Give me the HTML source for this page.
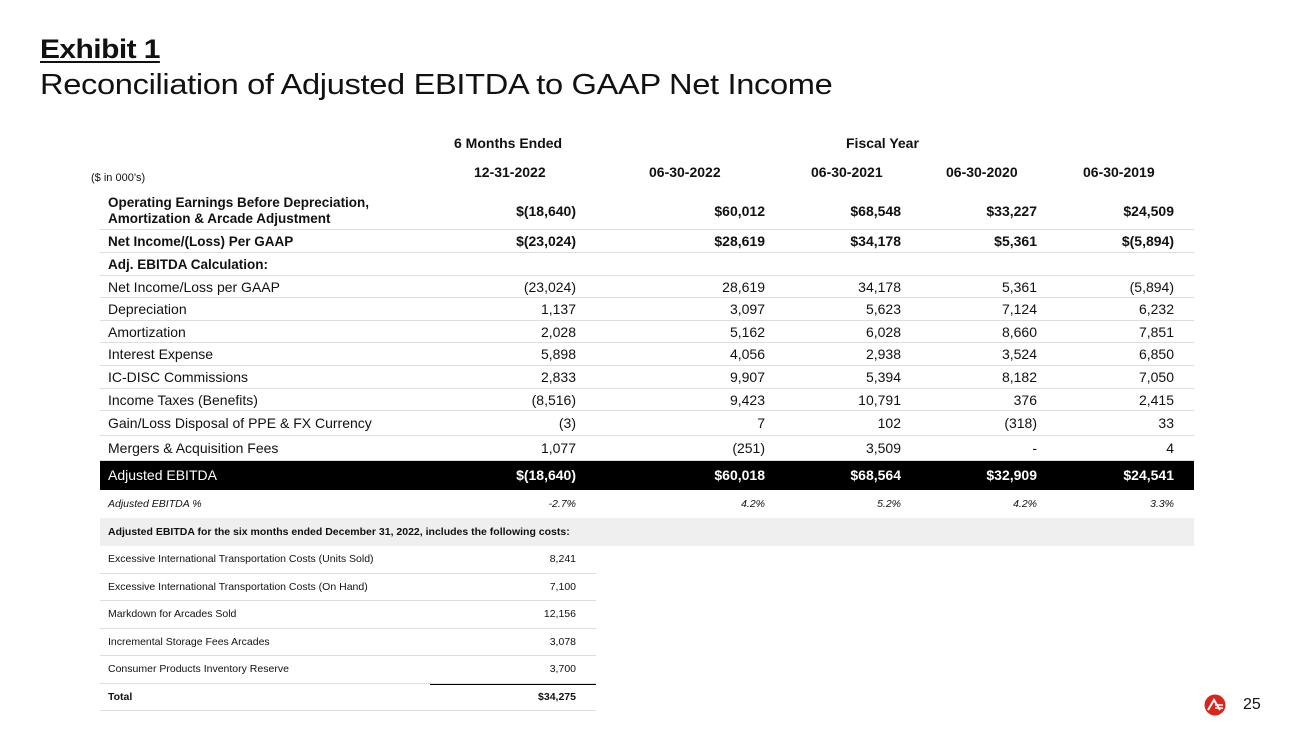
<!DOCTYPE html>
<html><head><meta charset="utf-8"><style>
*{margin:0;padding:0;box-sizing:border-box}
body{width:1300px;height:731px;background:#fff;font-family:"Liberation Sans",sans-serif;color:#111;position:relative;overflow:hidden}
.a{position:absolute;white-space:nowrap}
.r{position:absolute;left:100px;width:1094px;border-bottom:1px solid #ddd}
.l{position:absolute;left:8px}
.v{position:absolute;text-align:right;width:200px}
.b{font-weight:bold}
</style></head><body>
<div class="a b" style="left:40px;top:34px;font-size:27px;text-decoration:underline;text-underline-offset:3px;letter-spacing:-0.5px;transform:scaleX(1.11);transform-origin:left">Exhibit 1</div>
<div class="a" style="left:40px;top:69px;font-size:29px;letter-spacing:-0.3px;transform:scaleX(1.125);transform-origin:left">Reconciliation of Adjusted EBITDA to GAAP Net Income</div>
<div class="a b" style="left:454px;top:135px;font-size:14px">6 Months Ended</div>
<div class="a b" style="left:846px;top:135px;font-size:14px">Fiscal Year</div>
<div class="a" style="left:91px;top:172px;font-size:11px">($ in 000’s)</div>
<div class="a b" style="left:474px;top:164px;font-size:14px">12-31-2022</div>
<div class="a b" style="left:649px;top:164px;font-size:14px">06-30-2022</div>
<div class="a b" style="left:811px;top:164px;font-size:14px">06-30-2021</div>
<div class="a b" style="left:946px;top:164px;font-size:14px">06-30-2020</div>
<div class="a b" style="left:1083px;top:164px;font-size:14px">06-30-2019</div>
<div id="t"></div>
<svg class="a" style="left:1204px;top:694px" width="22" height="22" viewBox="0 0 22 22"><circle cx="11" cy="11" r="10.5" fill="#d9261c"/><path d="M4 16 L10 6 L16 16" stroke="#fff" stroke-width="2" fill="none"/><path d="M11 11h8M11 14h8" stroke="#fff" stroke-width="1.6"/></svg>
<div class="a" style="left:1243px;top:696px;font-size:16px">25</div>
<script>
const R=[576,765,901,1037,1174];
const rows=[
[192,38,"Operating Earnings Before Depreciation,<br>Amortization &amp; Arcade Adjustment",["$(18,640)","$60,012","$68,548","$33,227","$24,509"],1],
[230,23,"Net Income/(Loss) Per GAAP",["$(23,024)","$28,619","$34,178","$5,361","$(5,894)"],1],
[253,23,"Adj. EBITDA Calculation:",[],1],
[276,22,"Net Income/Loss per GAAP",["(23,024)","28,619","34,178","5,361","(5,894)"]],
[298,23,"Depreciation",["1,137","3,097","5,623","7,124","6,232"]],
[321,22,"Amortization",["2,028","5,162","6,028","8,660","7,851"]],
[343,23,"Interest Expense",["5,898","4,056","2,938","3,524","6,850"]],
[366,23,"IC-DISC Commissions",["2,833","9,907","5,394","8,182","7,050"]],
[389,22,"Income Taxes (Benefits)",["(8,516)","9,423","10,791","376","2,415"]],
[411,25,"Gain/Loss Disposal of PPE &amp; FX Currency",["(3)","7","102","(318)","33"]],
[436,25,"Mergers &amp; Acquisition Fees",["1,077","(251)","3,509","-","4"]],
];
let h="";
for(const[y,hh,l,v,b]of rows){
 const lh=b&&l.includes("<br>")?"16px":hh+"px";
 h+=`<div class="r" style="top:${y}px;height:${hh}px;font-size:${b?13.5:14}px"><div class="l ${b?'b':''}" style="top:${l.includes('<br>')?3:0}px;line-height:${lh}">${l}</div>`;
 v.forEach((s,i)=>h+=`<div class="v ${b?'b':''}" style="left:${R[i]-100-200}px;line-height:${hh}px;font-size:14px">${s}</div>`);
 h+="</div>";
}
h+=`<div class="r" style="top:461px;height:29px;background:#000;color:#fff;font-size:14px;border:none"><div class="l" style="line-height:29px">Adjusted EBITDA</div>`;
["$(18,640)","$60,018","$68,564","$32,909","$24,541"].forEach((s,i)=>h+=`<div class="v b" style="left:${R[i]-300}px;line-height:29px">${s}</div>`);
h+="</div>";
h+=`<div class="r" style="top:490px;height:28px;font-size:10.5px;font-style:italic;border:none"><div class="l" style="line-height:28px">Adjusted EBITDA %</div>`;
["-2.7%","4.2%","5.2%","4.2%","3.3%"].forEach((s,i)=>h+=`<div class="v" style="left:${R[i]-300}px;line-height:28px">${s}</div>`);
h+="</div>";
h+=`<div class="r b" style="top:518px;height:28px;background:#efefef;font-size:10.5px;border:none"><div class="l" style="line-height:28px">Adjusted EBITDA for the six months ended December 31, 2022, includes the following costs:</div></div>`;
const s=[["Excessive International Transportation Costs (Units Sold)","8,241"],["Excessive International Transportation Costs (On Hand)","7,100"],["Markdown for Arcades Sold","12,156"],["Incremental Storage Fees Arcades","3,078"],["Consumer Products Inventory Reserve","3,700"]];
let y=546;
s.forEach(([a,b])=>{h+=`<div class="r" style="top:${y}px;height:27.6px;width:496px;font-size:10.5px"><div class="l" style="line-height:27px">${a}</div><div class="v" style="left:${576-300}px;line-height:27px">${b}</div></div>`;y+=27.6;});
h+=`<div class="a" style="left:430px;top:684px;width:166px;border-top:1px solid #000"></div>`;
h+=`<div class="r b" style="top:684px;height:27px;width:496px;font-size:10.5px"><div class="l" style="line-height:27px">Total</div><div class="v" style="left:${576-300}px;line-height:27px">$34,275</div></div>`;
document.getElementById("t").innerHTML=h;
</script>
</body></html>
